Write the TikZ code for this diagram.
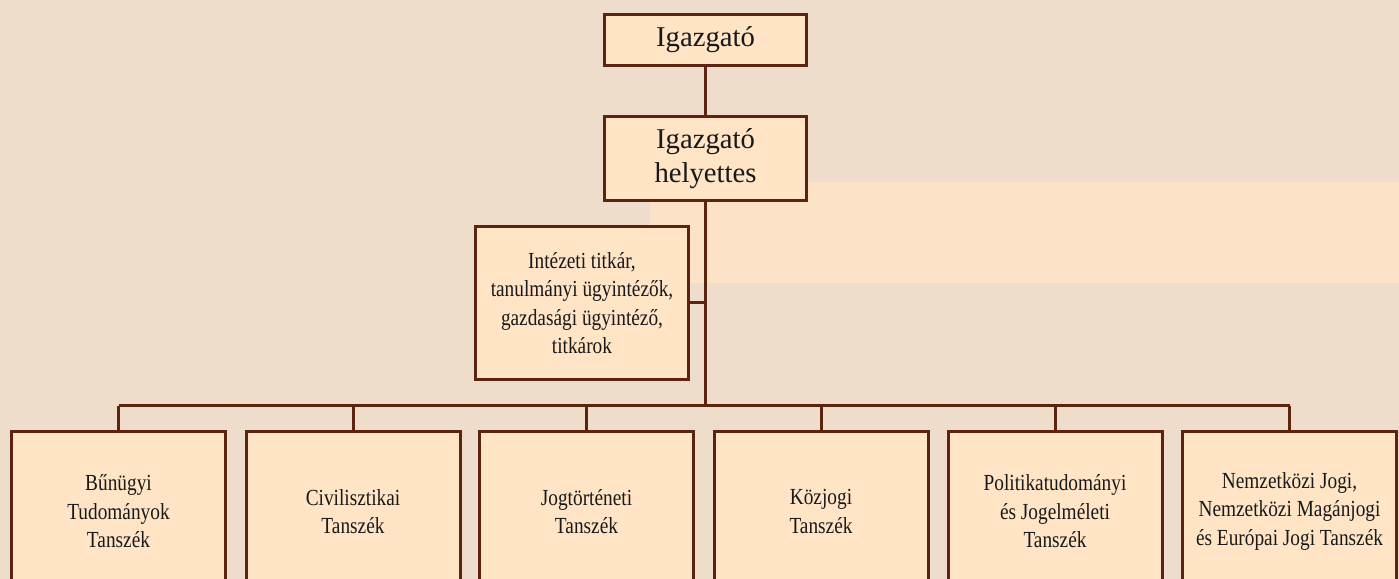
\documentclass[tikz,border=0pt]{standalone}
\usepackage{fontspec}
\setmainfont{Liberation Serif}
\newfontfamily\narrowfont[FakeStretch=0.84]{Liberation Serif}

\definecolor{bgcol}{RGB}{239,221,204}
\definecolor{bandcol}{RGB}{252,227,200}
\definecolor{boxfill}{RGB}{255,228,198}
\definecolor{boxline}{RGB}{92,36,14}

\tikzset{
  headbox/.style={draw=boxline, fill=boxfill, line width=3pt, align=center,
    minimum width=202pt, font=\fontsize{28.7}{34}\selectfont, text=black!90},
  staffbox/.style={draw=boxline, fill=boxfill, line width=3pt, align=center,
    minimum width=213pt, minimum height=153pt,
    font=\fontsize{23}{28.5}\selectfont\narrowfont, text=black!90},
  deptbox/.style={draw=boxline, fill=boxfill, line width=3pt, align=center,
    minimum width=214pt, minimum height=160pt,
    font=\fontsize{23}{28.5}\selectfont\narrowfont, text=black!90},
  conn/.style={draw=boxline, line width=3pt}
}

\begin{document}
\begin{tikzpicture}[x=1pt,y=1pt]

\useasboundingbox (0,0) rectangle (1399,578);
\fill[bgcol] (-20,-20) rectangle (1419,598);
\fill[bandcol] (650,295) rectangle (1419,396);

% top tier:
\node[headbox, minimum height=51pt] (dir) at (705.5,538) {Igazgató};

\node[headbox, minimum height=84pt] (dep) at (705.5,419.5) {Igazgató\\helyettes};

\draw[conn] (dir) -- (dep);

% staff box:
\node[staffbox] (staff) at (582,275)
  {Intézeti titkár,\\tanulmányi ügyintézők,\\gazdasági ügyintéző,\\titkárok};

\coordinate (bus) at (705.5,172);
\draw[conn] (dep) -- (bus);
\draw[conn] (staff.east) -- (staff.east -| dep);

% departments:
\node[deptbox] (d1) at (118.5,66.5) {Bűnügyi\\Tudományok\\Tanszék};
\node[deptbox] (d2) at (353,66.5) {Civilisztikai\\Tanszék};
\node[deptbox] (d3) at (586.5,66.5) {Jogtörténeti\\Tanszék};
\node[deptbox] (d4) at (821,66.5) {Közjogi\\Tanszék};
\node[deptbox] (d5) at (1055,66.5) {Politikatudományi\\és Jogelméleti\\Tanszék};
\node[deptbox] (d6) at (1289.5,66.5) {Nemzetközi Jogi,\\Nemzetközi Magánjogi\\és Európai Jogi Tanszék};

\draw[conn] (bus -| d1.north) -- (bus -| d6.north);
\foreach \i in {1,...,6}
  \draw[conn] (bus -| d\i.north) -- (d\i.north);

\end{tikzpicture}
\end{document}
